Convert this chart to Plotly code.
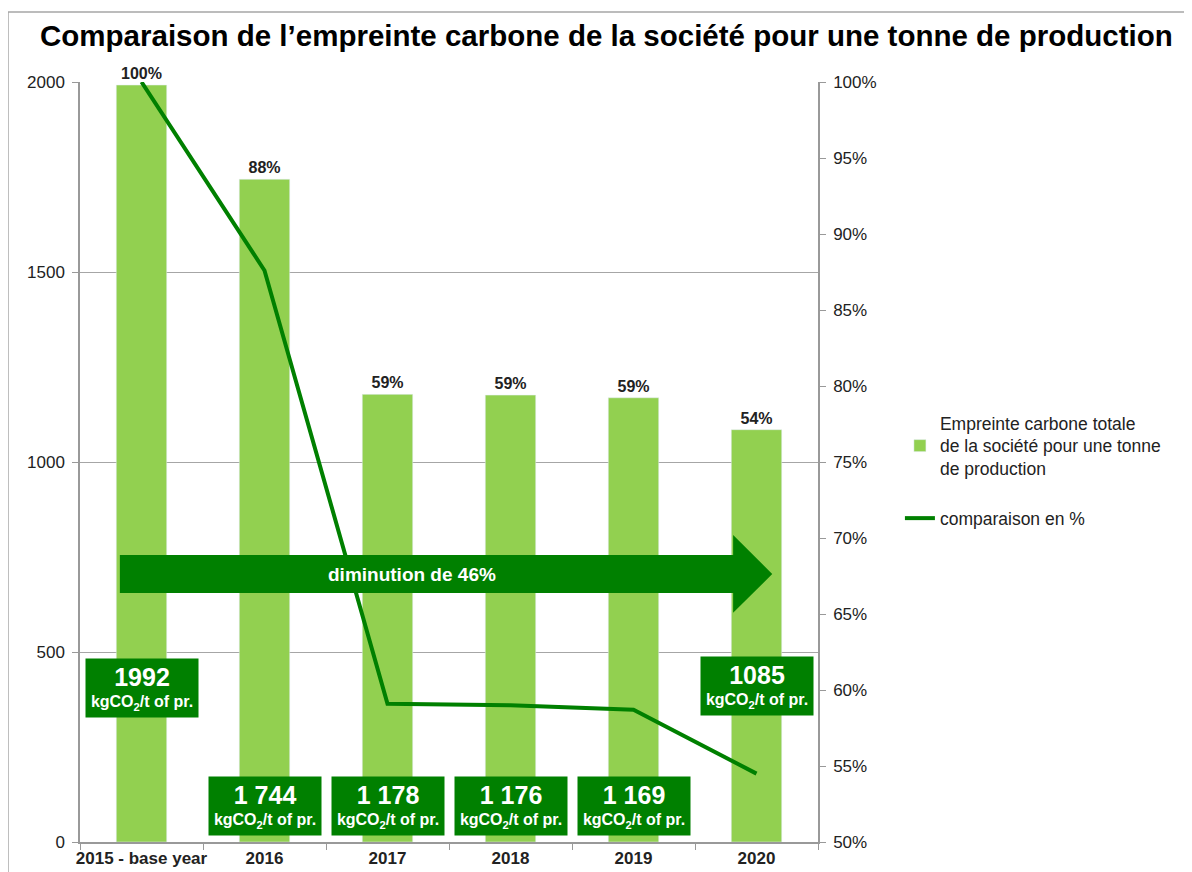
import plotly.graph_objects as go

categories = ["2015 - base year", "2016", "2017", "2018", "2019", "2020"]
emissions = [1992, 1744, 1178, 1176, 1169, 1085]
comparison_pct = [100, 87.6, 59.1, 59.0, 58.7, 54.5]
pct_labels = ["100%", "88%", "59%", "59%", "59%", "54%"]
box_labels = ["1992", "1 744", "1 178", "1 176", "1 169", "1085"]
box_y = [405, 95, 95, 95, 95, 410]

BAR = "#92D050"
DARK = "#008000"
FONT = "Liberation Sans, Arial, sans-serif"

xi = list(range(len(categories)))

fig = go.Figure()
fig.add_trace(go.Bar(
    x=xi, y=emissions, marker_color=BAR, width=0.41,
    name="Empreinte carbone totale<br>de la société pour une tonne<br>de production",
    text=pct_labels, textposition="outside", cliponaxis=False,
    textfont=dict(family=FONT, size=16, color="#222222"),
    texttemplate="<b>%{text}</b>",
    legendgroup="a",
))
fig.add_trace(go.Scatter(
    x=xi, y=comparison_pct, yaxis="y2", mode="lines",
    line=dict(color=DARK, width=4), name="comparaison en %",
    legendgroup="b",
))

annotations = []
for i, lab, yy in zip(xi, box_labels, box_y):
    annotations.append(dict(
        x=i, y=yy, xref="x", yref="y",
        text=f"<b><span style='font-size:25px'>{lab}</span><br>kgCO<sub>2</sub>/t of pr.</b>",
        showarrow=False, bgcolor=DARK, font=dict(family=FONT, size=16, color="white"),
        width=110, height=56, align="center", borderpad=1,
    ))
annotations.append(dict(
    x=0.45, y=705, xref="paper", yref="y", text="<b>diminution de 46%</b>",
    showarrow=False, font=dict(family=FONT, size=19, color="white"),
))

shapes = [
    dict(type="path", xref="paper", yref="y",
         path="M 0.054,755 L 0.885,755 L 0.885,808 L 0.938,705 L 0.885,603 L 0.885,655 L 0.054,655 Z",
         fillcolor=DARK, line=dict(width=0), layer="above"),
    dict(type="rect", xref="paper", yref="paper", x0=-0.0976, y0=1.092, x1=1.52, y1=-0.06,
         line=dict(color="#a6a6a6", width=1.5), fillcolor="rgba(0,0,0,0)"),
]

boundaries = [i - 0.5 for i in xi] + [xi[-1] + 0.5]

fig.update_layout(
    width=1192, height=872,
    margin=dict(l=72, r=382, t=74, b=38, autoexpand=False),
    paper_bgcolor="white", plot_bgcolor="white",
    font=dict(family=FONT, size=16, color="#222222"),
    title=dict(text="<b>Comparaison de l’empreinte carbone de la société pour une tonne de production</b>",
               x=0.502, xanchor="center", y=0.968, yanchor="middle",
               font=dict(family=FONT, size=29.5, color="black")),
    showlegend=True,
    legend=dict(x=1.111, y=0.575, xanchor="left", yanchor="top",
                font=dict(family=FONT, size=17.5, color="#222222"),
                tracegroupgap=24, traceorder="grouped"),
    xaxis=dict(range=[-0.5, len(categories) - 0.5], tickvals=xi,
               ticktext=[f"<b>{c}</b>" for c in categories],
               showline=True, linecolor="#999999", linewidth=1.5,
               ticks="", showgrid=False, zeroline=False, tickangle=0, automargin=False,
               minor=dict(tickvals=boundaries, ticks="outside", ticklen=6, tickcolor="#999999", showgrid=False),
               tickfont=dict(family=FONT, size=17, color="#222222")),
    yaxis=dict(range=[0, 2000], dtick=500, showgrid=True, gridcolor="#a6a6a6", gridwidth=1,
               showline=True, linecolor="#999999", linewidth=1.5, ticks="outside", ticklen=6,
               tickcolor="#999999", zeroline=False, automargin=False, ticklabelstandoff=4,
               tickfont=dict(family=FONT, size=17, color="#222222")),
    yaxis2=dict(range=[50, 100], dtick=5, ticksuffix="%", overlaying="y", side="right",
                showgrid=False, showline=True, linecolor="#999999", linewidth=1.5,
                ticks="outside", ticklen=6, tickcolor="#999999", zeroline=False, automargin=False,
                ticklabelstandoff=4,
                tickfont=dict(family=FONT, size=17, color="#222222")),
    annotations=annotations,
    shapes=shapes,
)

fig.write_html("out.html")
